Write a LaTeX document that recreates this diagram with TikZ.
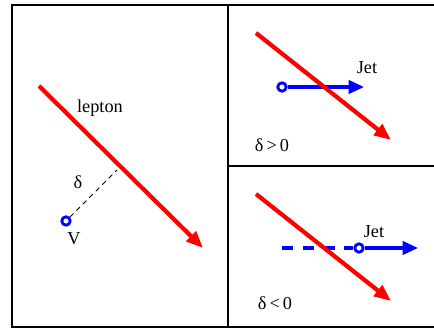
\documentclass[tikz,border=0pt]{standalone}
\usepackage{fontspec}
\setmainfont{Liberation Serif}
\usetikzlibrary{arrows.meta}
\definecolor{leptonred}{HTML}{FF0000}
\definecolor{jetblue}{HTML}{0000FF}
\tikzset{
  frameline/.style = {line width=1.6pt, draw=black},
  leptonarr/.style = {-{Triangle[length=12pt, width=9.5pt]}, line width=3pt, draw=leptonred},
  jetarr/.style    = {-{Triangle[length=11pt, width=9.5pt]}, line width=2.3pt, draw=jetblue},
  jetback/.style   = {line width=2.3pt, draw=jetblue, dash pattern=on 7.8pt off 7pt},
  vtx/.style       = {circle, draw=jetblue, fill=white, line width=2pt,
                      minimum size=6pt, inner sep=0pt},
  lbl/.style       = {font=\fontsize{13}{15}\selectfont, inner sep=0pt},
}
\begin{document}
\begin{tikzpicture}[x=0.25mm, y=-0.25mm]
        \useasboundingbox (0,0) rectangle (434,329);
        % frame and panels
        \draw[frameline] (440,5) -- (12,5) -- (12,327) -- (440,327);
        \draw[frameline] (228,5) -- (228,327);
        \draw[frameline] (228,166) -- (440,166);
        % left panel
        \coordinate (lepA) at (39,86);
        \coordinate (lepB) at (203,248);
        \coordinate (foot) at (117,170);
        \node[vtx] (vtx) at (66,221) {};
        \draw[line width=0.6pt, dash pattern=on 3.5pt off 3pt] (vtx) -- (foot);
        \draw[leptonarr] (lepA) -- (lepB);
        \node[lbl] (lepton) at (100,108) {lepton};
        \node[lbl] (delta) at (78,182) {δ};
        \node[lbl] (vlbl) at (74,239) {V};
        % top right panel
        \coordinate (upA) at (256,33);
        \coordinate (upB) at (391,140);
        \coordinate (jetup) at (364,87);
        \node[vtx] (vup) at (282,87) {};
        \draw[jetarr] (vup) -- (jetup);
        \draw[leptonarr] (upA) -- (upB);
        \node[lbl] (jetlblup) at (367,68) {Jet};
        \node[lbl] (dpos) at (272,145) {δ\,>\,0};
        % bottom right panel
        \coordinate (dnA) at (256,194);
        \coordinate (dnB) at (391,301);
        \coordinate (back) at (282,248);
        \coordinate (jetdn) at (418,248);
        \node[vtx] (vdn) at (359,248) {};
        \draw[jetback] (back) -- (vdn);
        \draw[jetarr] (vdn) -- (jetdn);
        \draw[leptonarr] (dnA) -- (dnB);
        \node[lbl] (jetlbldn) at (374,232) {Jet};
        \node[lbl] (dneg) at (275,303) {δ\,<\,0};
    \end{tikzpicture}
\end{document}
